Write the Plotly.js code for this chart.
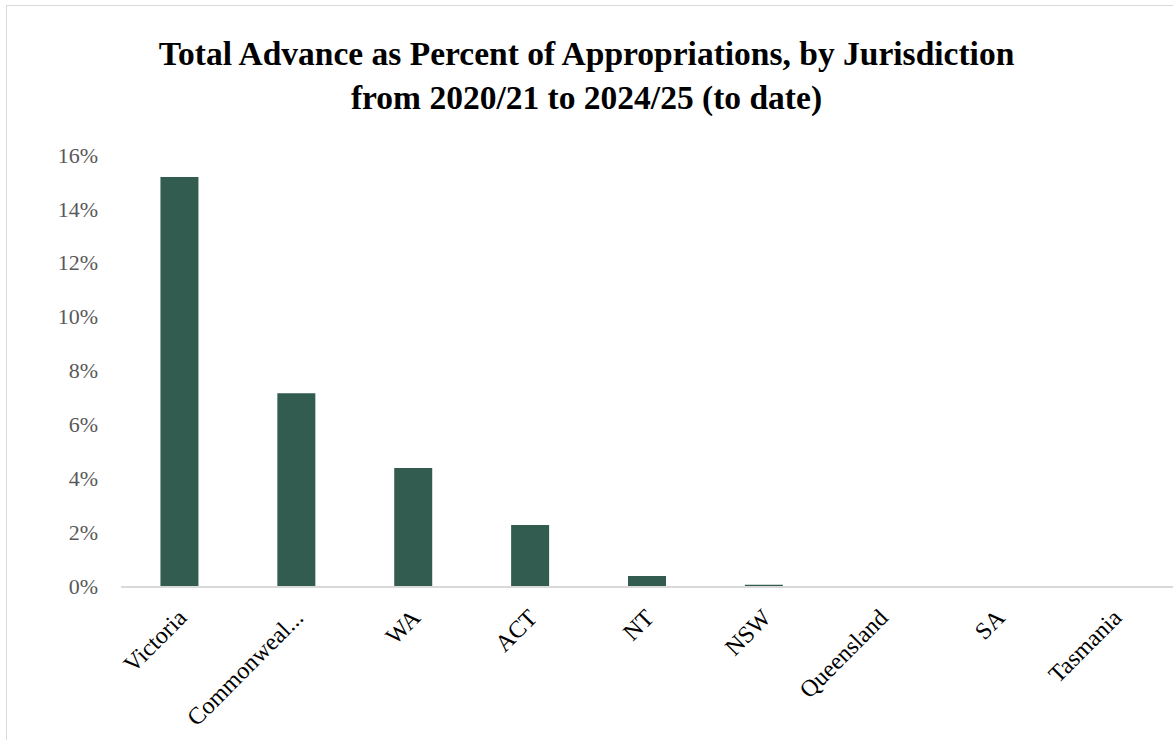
<!DOCTYPE html>
<html>
<head>
<meta charset="utf-8">
<script src="https://cdn.plot.ly/plotly-3.0.1.min.js"></script>
<style>
  html, body { margin: 0; padding: 0; background: #fff; }
  #frame { position: absolute; left: 6px; top: 5px; width: 1180px; height: 760px; border: 1.5px solid #d9d9d9; box-sizing: border-box; }
  #chart { position: absolute; left: 0; top: 0; width: 1173px; height: 740px; }
</style>
</head>
<body>
<div id="frame"></div>
<div id="chart"></div>
<script>
const categories = ["Victoria", "Commonweal...", "WA", "ACT", "NT", "NSW", "Queensland", "SA", "Tasmania"];
const advancePct = [0.1518, 0.0716, 0.0438, 0.0226, 0.0037, 0.0005, 0, 0, 0];
const yTicks = [0, 0.02, 0.04, 0.06, 0.08, 0.10, 0.12, 0.14, 0.16];
const yTickLabels = ["0%", "2%", "4%", "6%", "8%", "10%", "12%", "14%", "16%"];

const serif = "Liberation Serif, DejaVu Serif, serif";

Plotly.newPlot("chart", [{
  type: "bar",
  x: categories,
  y: advancePct,
  marker: { color: "#325C4F", line: { width: 0 } },
  hoverinfo: "skip"
}], {
  width: 1173,
  height: 740,
  paper_bgcolor: "rgba(0,0,0,0)",
  plot_bgcolor: "rgba(0,0,0,0)",
  margin: { l: 121, r: 0, t: 155, b: 154 },
  bargap: 0.675,
  showlegend: false,
  title: {
    text: "<b>Total Advance as Percent of Appropriations, by Jurisdiction<br>from 2020/21 to 2024/25 (to date)</b>",
    font: { family: serif, size: 33.5, color: "#000" },
    x: 0.5, xanchor: "center",
    y: 0.912, yanchor: "middle"
  },
  xaxis: {
    type: "category",
    tickangle: -45,
    tickfont: { family: serif, size: 24, color: "#000" },
    ticklabelstandoff: 6,
    showline: true, linecolor: "#d9d9d9", linewidth: 2,
    ticks: "", showgrid: false, zeroline: false,
    automargin: false
  },
  yaxis: {
    range: [0, 0.16],
    tickvals: yTicks,
    ticktext: yTickLabels,
    tickfont: { family: serif, size: 22, color: "#595959" },
    ticklabelstandoff: 22,
    showgrid: false, zeroline: false, showline: false,
    ticks: "", ticklen: 0,
    automargin: false
  }
}, { displayModeBar: false, staticPlot: true });
</script>
</body>
</html>
